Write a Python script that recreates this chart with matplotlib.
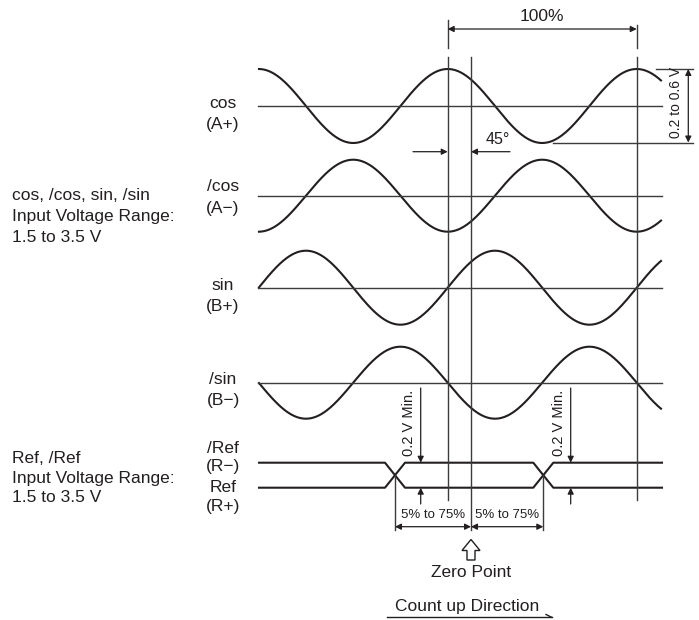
#%%
# Timing diagram: cos / sin / Ref input signals with zero point
import numpy as np
import matplotlib.pyplot as plt
from matplotlib.patches import Polygon

plt.rcParams['font.family'] = ['Liberation Sans', 'DejaVu Sans']

#%%
# signals (all positions in picture pixels, y grows downwards)
signal_names = ['cos', '/cos', 'sin', '/sin']
signal_codes = ['(A+)', '(A\u2212)', '(B+)', '(B\u2212)']
baseline_y = [106, 195.7, 287.7, 382.7]
name_y = [104, 186.7, 285, 380]
code_y = [125, 208, 306.7, 400]
amplitude = [37, 36, 37, 36]
# y = base - amp*cos(2pi*(x-x0)/period + phase)
phase_deg = [0, 180, -90, 90]
period = 189.0
x0 = 447.7
wave_start, wave_end = 259, 661

# Ref / /Ref lines
ref_names = ['/Ref', '(R\u2212)', 'Ref', '(R+)']
ref_name_y = [448.3, 466.7, 487.3, 506.7]
ref_high, ref_low = 462.7, 487.7
ref_cross_x = [395, 543.3]
ref_half = 10

# vertical guide lines: x, top, bottom
guide_x = [447.7, 471.0, 636.7, 395.0, 543.3]
guide_top = [57, 57, 57, 475, 475]
guide_bot = [500, 530, 500, 530, 530]

# left side descriptions
left_text1 = ['cos, /cos, sin, /sin', 'Input Voltage Range:', '1.5 to 3.5 V']
left_text1_y = [195, 216.5, 237]
left_text2 = ['Ref, /Ref', 'Input Voltage Range:', '1.5 to 3.5 V']
left_text2_y = [458.3, 478.3, 497.8]

dark = '#231f20'
gray = '#3c3c3c'

fig = plt.figure(figsize=(6.99, 6.2), dpi=100)
ax = fig.add_axes([0, 0, 1, 1])
ax.set_xlim(0, 699)
ax.set_ylim(620, 0)
ax.axis('off')


def arrow(x1, y1, x2, y2, style='-|>'):
    ax.annotate('', xy=(x2, y2), xytext=(x1, y1),
                arrowprops=dict(arrowstyle=style, color=dark, lw=0.9,
                                shrinkA=0, shrinkB=0, mutation_scale=9))


#%% waves
x = np.linspace(wave_start, wave_end, 600)
for i in range(4):
    th = 2*np.pi*(x - x0)/period + np.deg2rad(phase_deg[i])
    ax.plot(x, baseline_y[i] - amplitude[i]*np.cos(th), color=dark, lw=1.5)
    ax.plot([258, 662], [baseline_y[i], baseline_y[i]], color=gray, lw=1.0)
    ax.text(223, name_y[i], signal_names[i], ha='center', va='center', fontsize=12.5, color=dark)
    ax.text(223, code_y[i], signal_codes[i], ha='center', va='center', fontsize=12.5, color=dark)

#%% Ref lines with crossings
c1, c2 = ref_cross_x
up_x = [259, c1-ref_half, c1+ref_half, c2-ref_half, c2+ref_half, 662]
ax.plot(up_x, [ref_high, ref_high, ref_low, ref_low, ref_high, ref_high], color=dark, lw=1.5)
ax.plot(up_x, [ref_low, ref_low, ref_high, ref_high, ref_low, ref_low], color=dark, lw=1.5)
for i in range(4):
    ax.text(223, ref_name_y[i], ref_names[i], ha='center', va='center', fontsize=12.5, color=dark)

#%% guide lines
for gx, t, b in zip(guide_x, guide_top, guide_bot):
    ax.plot([gx, gx], [t, b], color=gray, lw=1.0)
# extension lines for the 100% dimension
ax.plot([447.7, 447.7], [20, 48], color=gray, lw=1.0)
ax.plot([636.7, 636.7], [25, 48], color=gray, lw=1.0)
arrow(447.7, 29, 636.7, 29, '<|-|>')
ax.text(541.7, 16.5, '100%', ha='center', va='center', fontsize=12.5, color=dark)

# 45 deg
arrow(413, 151.7, 447.7, 151.7)
arrow(510, 151.7, 471, 151.7)
ax.text(498, 140, '45\u00b0', ha='center', va='center', fontsize=11.5, color=dark)

# amplitude 0.2 to 0.6 V
ax.plot([656, 693], [69, 69], color=gray, lw=1.0)
ax.plot([553, 693], [142.5, 142.5], color=gray, lw=1.0)
arrow(688.3, 69, 688.3, 142.5, '<|-|>')
ax.text(676, 102.5, '0.2 to 0.6 V', rotation=90, ha='center', va='center', fontsize=10, color=dark)

# 0.2 V Min. arrows
for mx in [420.7, 570.7]:
    arrow(mx, 388, mx, ref_high)
    arrow(mx, 504, mx, ref_low)
    ax.text(mx-11.5, 423, '0.2 V Min.', rotation=90, ha='center', va='center', fontsize=10.5, color=dark)

# 5% to 75%
arrow(395, 526.7, 471, 526.7, '<|-|>')
arrow(471, 526.7, 543.3, 526.7, '<|-|>')
ax.text(433.3, 514.5, '5% to 75%', ha='center', va='center', fontsize=9.5, color=dark)
ax.text(507.5, 514.5, '5% to 75%', ha='center', va='center', fontsize=9.5, color=dark)

# zero point hollow arrow
zx = 471
pts = [(zx, 539.5), (zx+9, 550.5), (zx+4, 550.5), (zx+4, 560), (zx-4, 560), (zx-4, 550.5), (zx-9, 550.5)]
ax.add_patch(Polygon(pts, closed=True, facecolor='white', edgecolor=dark, lw=1.0))
ax.text(zx, 572.5, 'Zero Point', ha='center', va='center', fontsize=12.5, color=dark)

# count up direction
ax.text(467.5, 606.5, 'Count up Direction', ha='center', va='center', fontsize=12.5, color=dark)
ax.plot([386.7, 551.7], [617.3, 617.3], color=dark, lw=1.0)
ax.plot([546, 551.7], [614.5, 617.3], color=dark, lw=1.0)

# left descriptions
for t, ty in zip(left_text1, left_text1_y):
    ax.text(11.7, ty, t, ha='left', va='center', fontsize=12.5, color=dark)
for t, ty in zip(left_text2, left_text2_y):
    ax.text(11.7, ty, t, ha='left', va='center', fontsize=12.5, color=dark)

fig.savefig('out.png', dpi=100)
